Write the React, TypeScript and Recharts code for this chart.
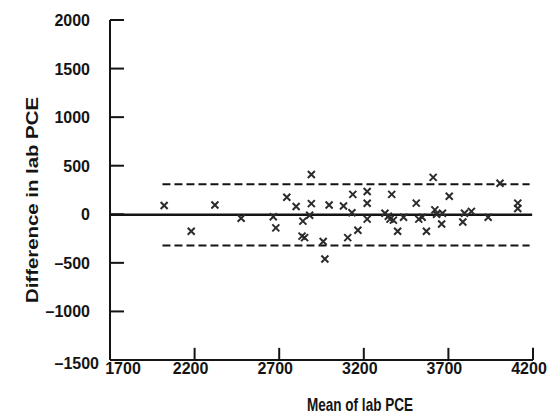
import { ScatterChart, Scatter, XAxis, YAxis, ReferenceLine } from 'recharts'

// Bland-Altman: mean of the two lab PCE readings vs their difference
const meanValues = [
  2020, 2180, 2320, 2475, 2665, 2680, 2745, 2800, 2840, 2835, 2850, 2880,
  2890, 2890, 2960, 2970, 2995, 3080, 3105, 3130, 3135, 3165, 3220, 3220,
  3220, 3325, 3345, 3355, 3365, 3375, 3400, 3435, 3510, 3525, 3545, 3570,
  3610, 3620, 3630, 3660, 3665, 3705, 3785, 3795, 3836, 3935, 4005, 4110,
  4110,
]
const diffValues = [
  90, -175, 95, -40, -25, -140, 175, 80, -70, -225, -240, -10,
  410, 110, -280, -460, 95, 85, -240, 15, 205, -165, 235, 113,
  -50, 10, -20, -50, 205, -60, -175, -30, 115, -50, -30, -175,
  380, 45, 0, -100, 10, 185, -80, 10, 30, -30, 320, 115,
  60,
]
const xTicks = [1700, 2200, 2700, 3200, 3700, 4200]
const yTicks = [-1500, -1000, -500, 0, 500, 1000, 1500, 2000]

const meanDiff = -5
const upperLimit = 308
const lowerLimit = -322
const limitStart = 2010
const limitEnd = 4180
const meanLineEnd = 4195

// inward x tick marks, ~12px tall at this scale
const xTickMarkHeight = 125

const points = meanValues.map((m, i) => ({ mean: m, diff: diffValues[i] }))

const font = "'Liberation Sans', Arial, Helvetica, sans-serif"
const ink = '#141414'

const fmt = (v: number) => (v < 0 ? `\u2013${Math.abs(v)}` : `${v}`)

const YTick = (props: any) => {
  const { x, y, payload } = props
  const v = payload.value
  const last = v === -1500
  return (
    <text
      x={last ? x + 9 : x}
      y={last ? y + 3 : y}
      dy={6}
      textAnchor="end"
      fontFamily={font}
      fontWeight="bold"
      fontSize={16}
      fill={ink}
    >
      {fmt(v)}
    </text>
  )
}

const XTick = (props: any) => {
  const { x, y, payload } = props
  const v = payload.value
  const first = v === 1700
  return (
    <text
      x={first ? x + 13 : x - 4}
      y={y}
      dy={14}
      textAnchor="middle"
      fontFamily={font}
      fontWeight="bold"
      fontSize={16}
      fill={ink}
    >
      {v}
    </text>
  )
}

const Cross = (props: any) => {
  const { cx, cy } = props
  const r = 3.5
  return (
    <path
      d={`M${cx - r},${cy - r}L${cx + r},${cy + r}M${cx + r},${cy - r}L${cx - r},${cy + r}`}
      stroke="#2b2b2b"
      strokeWidth={2}
      fill="none"
    />
  )
}

const XLabel = () => (
  <text
    x={360}
    y={411}
    textAnchor="middle"
    fontFamily={font}
    fontWeight="bold"
    fontSize={19}
    textLength={106}
    lengthAdjust="spacingAndGlyphs"
    fill={ink}
  >
    Mean of lab PCE
  </text>
)

const YLabel = () => (
  <text
    x={32}
    y={200}
    transform="rotate(-90 32 200)"
    textAnchor="middle"
    dominantBaseline="central"
    fontFamily={font}
    fontWeight="bold"
    fontSize={17}
    textLength={206}
    lengthAdjust="spacingAndGlyphs"
    fill={ink}
  >
    Difference in lab PCE
  </text>
)

export default function App() {
  return (
    <div style={{ position: 'absolute', left: 0, top: 0, background: '#fff' }}>
      <ScatterChart width={551} height={417} margin={{ top: 20, right: 18, bottom: 17, left: 40 }}>
        <XAxis
          type="number"
          dataKey="mean"
          domain={[1700, 4200]}
          ticks={xTicks}
          interval={0}
          axisLine={{ stroke: ink, strokeWidth: 2 }}
          tickLine={false}
          tickSize={0}
          tickMargin={0}
          tick={<XTick />}
          height={40}
          label={<XLabel />}
        />
        <YAxis
          type="number"
          dataKey="diff"
          domain={[-1500, 2000]}
          ticks={yTicks}
          interval={0}
          axisLine={{ stroke: ink, strokeWidth: 2 }}
          tickLine={{ stroke: ink, strokeWidth: 2 }}
          tickSize={-14}
          tickMargin={34}
          tick={<YTick />}
          width={70}
          label={<YLabel />}
        />
        {xTicks.slice(1).map((t) => (
          <ReferenceLine
            key={t}
            segment={[{ x: t, y: -1500 }, { x: t, y: -1500 + xTickMarkHeight }]}
            stroke={ink}
            strokeWidth={2}
          />
        ))}
        <ReferenceLine
          segment={[{ x: 1700, y: meanDiff }, { x: meanLineEnd, y: meanDiff }]}
          stroke={ink}
          strokeWidth={2.5}
        />
        <ReferenceLine
          segment={[{ x: limitStart, y: upperLimit }, { x: limitEnd, y: upperLimit }]}
          stroke={ink}
          strokeWidth={2}
          strokeDasharray="8 4"
        />
        <ReferenceLine
          segment={[{ x: limitStart, y: lowerLimit }, { x: limitEnd, y: lowerLimit }]}
          stroke={ink}
          strokeWidth={2}
          strokeDasharray="8 4"
        />
        <Scatter data={points} shape={<Cross />} isAnimationActive={false} />
      </ScatterChart>
    </div>
  )
}
